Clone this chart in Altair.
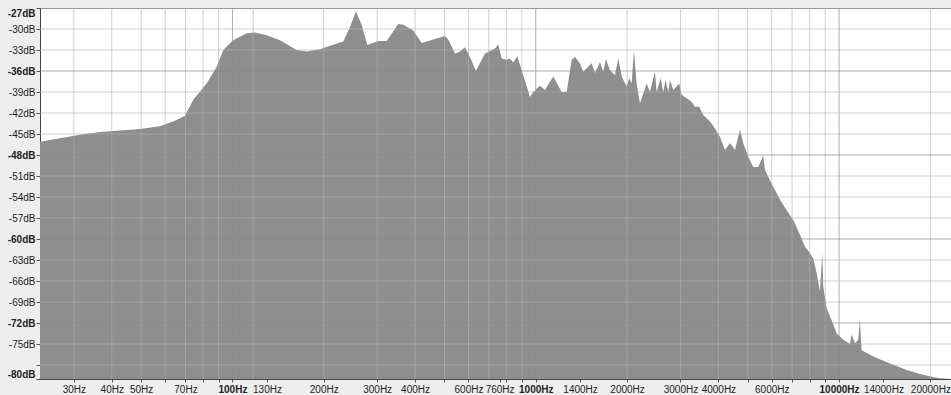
import altair as alt
import pandas as pd

# Spectrum outline (frequency in Hz, level in dB)
freq_hz = [23.2, 27.0, 31.4, 36.6, 42.6, 49.5, 57.7, 64.6, 69.7, 74.3, 82.2, 88.7, 93.3, 100.6,
           111.4, 118.7, 129.7, 143.4, 162.8, 175.6, 194.3, 209.7, 231.9, 244.0, 255.4, 266.7,
           278.3, 302.5, 322.4, 352.2, 365.8, 394.6, 420.6, 459.3, 501.9, 514.6, 541.5, 562.4,
           584.2, 606.8, 635.0, 680.0, 733.8, 752.4, 772.0, 802.0, 822.3, 843.2, 869.2, 898.7,
           957.0, 981.3, 1032.3, 1072.3, 1142.2, 1217.4, 1264.5, 1313.5, 1346.6, 1398.7, 1434.2,
           1528.6, 1567.4, 1627.8, 1669.1, 1703.7, 1756.3, 1824.3, 1870.7, 1919.5, 1993.8, 2033.2,
           2070.6, 2107.1, 2150.7, 2205.3, 2320.5, 2379.0, 2471.2, 2503.2, 2580.5, 2632.1, 2680.4,
           2734.0, 2769.5, 2839.9, 2971.7, 3026.2, 3143.4, 3265.1, 3348.1, 3459.3, 3566.1, 3752.3,
           3897.0, 4047.9, 4204.5, 4367.2, 4536.2, 4711.7, 4830.4, 5017.4, 5211.7, 5413.4, 5622.8,
           5695.8, 5916.2, 6386.1, 6719.5, 7063.3, 7431.6, 7719.4, 8017.9, 8221.7, 8436.5, 8649.0,
           8802.0, 8869.1, 9100.8, 9453.2, 9819.4, 10325, 10863, 11003, 11283, 11569, 11719, 11871,
           12969, 14716, 16709, 18484, 20446, 21513, 23390]
level_db = [-46.1, -45.6, -45.1, -44.7, -44.5, -44.3, -43.9, -43.1, -42.4, -40.1, -37.8, -35.4, -33.0, -31.6,
            -30.6, -30.5, -30.9, -31.6, -33.0, -33.2, -32.9, -32.4, -31.8, -29.7, -27.5, -29.4,
            -32.3, -31.7, -31.7, -29.3, -29.4, -30.2, -32.0, -31.5, -31.0, -31.5, -33.5, -33.2,
            -32.6, -34.0, -36.0, -33.5, -32.8, -32.2, -34.2, -34.4, -34.2, -34.8, -33.9, -35.9,
            -39.7, -39.0, -38.1, -38.7, -36.8, -39.0, -39.0, -34.4, -34.0, -34.9, -36.1,
            -34.9, -36.3, -34.7, -36.1, -34.3, -35.9, -36.6, -34.2, -36.8, -38.2, -37.0,
            -37.8, -33.1, -37.8, -40.6, -37.8, -39.0, -36.1, -39.0, -37.0, -39.0, -37.3,
            -39.0, -37.3, -38.7, -37.8, -39.4, -39.9, -40.4, -41.1, -41.1, -42.3, -43.2,
            -44.2, -45.4, -47.3, -46.3, -47.3, -44.4, -46.3, -48.2, -49.7, -49.7, -48.1,
            -50.1, -51.6, -54.4, -55.9, -57.3, -59.4, -61.1, -62.0, -62.8, -64.9, -67.5,
            -62.0, -66.8, -69.9, -71.6, -73.5, -74.4, -75.0, -73.6, -74.9, -74.4, -71.6, -75.9,
            -76.8, -77.8, -78.7, -79.3, -79.7, -79.9, -80.0]

x_tick_values = [30, 40, 50, 60, 70, 80, 90, 100, 130, 200, 300, 400, 500, 600, 760, 800, 900,
                 1000, 1400, 2000, 3000, 4000, 5000, 6000, 7000, 8000, 9000, 10000, 14000, 20000]
x_label_values = [30, 40, 50, 70, 100, 130, 200, 300, 400, 600, 760, 1000, 1400, 2000, 3000,
                  4000, 6000, 10000, 14000, 20000]
x_bold_values = [100, 1000, 10000]

y_tick_values = [-27, -30, -33, -36, -39, -42, -45, -48, -51, -54, -57, -60, -63, -66, -69, -72,
                 -75, -78, -80]
y_bold_values = [-27, -36, -48, -60, -72, -80]

vgrid_minor = [30, 40, 50, 60, 70, 80, 90, 117, 200, 300, 400, 500, 600, 700, 800, 900,
               2000, 3000, 4000, 5000, 6000, 7000, 8000, 9000, 20000]
vgrid_major = [100, 1000, 10000]
hgrid_minor = [-30, -33, -39, -42, -45, -51, -54, -57, -63, -66, -69, -75, -78]
hgrid_major = [-36, -48, -60, -72]

X_DOMAIN = [23.2, 23390]
Y_DOMAIN = [-80, -27]
FONT = "Liberation Sans"

spec_df = pd.DataFrame({"freq": freq_hz, "db": level_db})

x_label_list = ",".join(str(v) for v in x_label_values)
x_bold_list = ",".join(str(v) for v in x_bold_values)
y_bold_list = ",".join(str(v) for v in y_bold_values)

x_axis = alt.Axis(
    values=x_tick_values,
    labelExpr=f"indexof([{x_label_list}], datum.value) >= 0 ? datum.value + 'Hz' : ''",
    labelOverlap=False,
    labelFlush=False,
    grid=False,
    title=None,
    labelFont=FONT,
    labelFontSize=10,
    labelColor="#222222",
    labelPadding=2,
    tickSize=3,
    tickColor="#555555",
    domainColor="#444444",
    labelFontWeight={"condition": {"test": f"indexof([{x_bold_list}], datum.value) >= 0", "value": "bold"},
                     "value": "normal"},
)
y_axis = alt.Axis(
    values=y_tick_values,
    labelExpr="datum.value == -78 ? '' : datum.value + 'dB'",
    labelOverlap=False,
    labelFlush=True,
    grid=False,
    title=None,
    labelFont=FONT,
    labelFontSize=10,
    labelColor="#222222",
    labelPadding=1,
    tickSize=4,
    tickColor="#555555",
    domainColor="#444444",
    labelFontWeight={"condition": {"test": f"indexof([{y_bold_list}], datum.value) >= 0", "value": "bold"},
                     "value": "normal"},
)

xs = alt.Scale(type="log", domain=X_DOMAIN, nice=False)
ys = alt.Scale(domain=Y_DOMAIN, nice=False, zero=False)

area = alt.Chart(spec_df).mark_area(color="#8e8e8e", clip=True, interpolate="linear").encode(
    x=alt.X("freq:Q", scale=xs, axis=x_axis),
    y=alt.Y("db:Q", scale=ys, axis=y_axis),
    y2=alt.datum(-80),
)

def vrules(vals, color, opacity):
    return alt.Chart(pd.DataFrame({"freq": vals})).mark_rule(color=color, opacity=opacity, strokeWidth=1).encode(
        x=alt.X("freq:Q", scale=xs, axis=x_axis)
    )

def hrules(vals, color, opacity):
    return alt.Chart(pd.DataFrame({"db": vals})).mark_rule(color=color, opacity=opacity, strokeWidth=1).encode(
        y=alt.Y("db:Q", scale=ys, axis=y_axis)
    )

chart = alt.layer(
    area,
    vrules(vgrid_minor, "#b0b0b0", 0.6),
    vrules(vgrid_major, "#8a8a8a", 0.7),
    hrules(hgrid_minor, "#b0b0b0", 0.6),
    hrules(hgrid_major, "#8a8a8a", 0.7),
).properties(
    width=911,
    height=371,
    autosize=alt.AutoSizeParams(type="none"),
    padding={"left": 40, "top": 8, "right": 0, "bottom": 16},
    background="#eeeeee",
).configure_view(
    fill="white",
    stroke="#999999",
    strokeWidth=1,
).configure_axis(
    labelOverlap=False,
)

chart.save("out.html", embed_options={"renderer": "svg", "actions": False})
